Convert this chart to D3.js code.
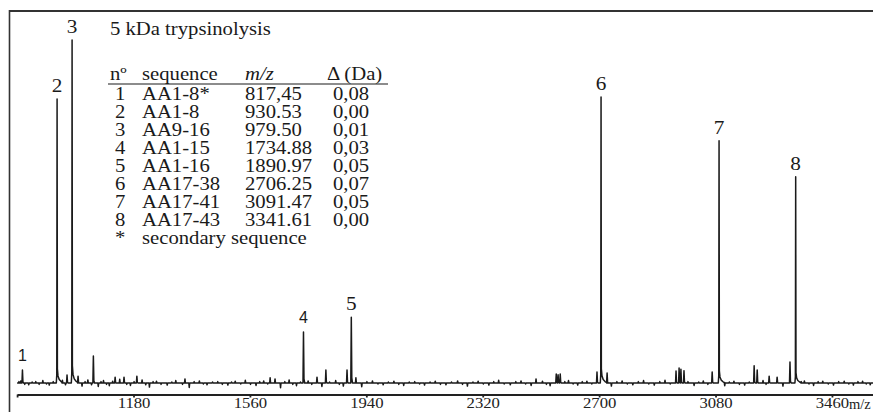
<!DOCTYPE html>
<html>
<head>
<meta charset="utf-8">
<script src="https://cdn.jsdelivr.net/npm/d3@7"></script>
<style>
  html, body { margin: 0; padding: 0; background: #fff; }
  svg { display: block; }
</style>
</head>
<body>
<svg id="chart" width="873" height="412"></svg>
<script>
// Labelled peptide peaks (m/z, relative intensity)
const peakLabels = ["1", "2", "3", "4", "5", "6", "7", "8"];
const peakMz = [817.45, 930.53, 979.50, 1734.88, 1890.97, 2706.25, 3091.47, 3341.61];
const peakIntensity = [3.8, 82.8, 100, 14.9, 19.2, 83.4, 70.6, 60.1];
const peakLabelFont = ["sans", "serif", "serif", "sans", "serif", "serif", "serif", "serif"];

// Smaller unassigned peaks
const minorMz = [963, 999, 1049, 1120, 1149, 1191, 1348, 1626, 1642, 1779, 1808, 1877, 1906, 2494,
  2560, 2566, 2573, 2693, 2726, 2951, 2961, 2967, 2977, 3069, 3206, 3216, 3255, 3281, 3323];
const minorIntensity = [2.3, 2.0, 7.9, 1.7, 1.7, 2.0, 1.2, 1.5, 1.2, 1.7, 3.8, 3.8, 1.5, 1.2,
  2.6, 2.4, 2.6, 3.2, 2.9, 3.5, 4.4, 4.0, 3.6, 3.2, 5.0, 3.8, 2.0, 1.7, 6.1];

// Baseline noise spikes
const noiseMz = [806, 812, 825, 838, 849, 861, 872, 884, 896, 905, 918, 948, 958, 1012, 1022, 1031, 1043,
  1065, 1074, 1082, 1092, 1101, 1112, 1135, 1158, 1170, 1182, 1208, 1220, 1232, 1244,
  1255, 1270, 1290, 1305, 1318, 1340, 1362, 1378, 1395, 1408, 1420, 1438, 1455, 1470, 1488, 1500,
  1512, 1530, 1545, 1562, 1580, 1592, 1605, 1618, 1660, 1674, 1688, 1700, 1712, 1725,
  1750, 1762, 1795, 1820, 1840, 1852, 1865, 1925, 1942, 1960, 1978, 1995, 2012, 2030, 2046,
  2062, 2080, 2098, 2114, 2130, 2148, 2165, 2182, 2200, 2218, 2238, 2254, 2270, 2288,
  2305, 2322, 2340, 2356, 2372, 2390, 2410, 2428, 2445, 2460, 2478, 2515, 2528, 2540, 2588, 2600,
  2615, 2630, 2645, 2660, 2676, 2740, 2758, 2775, 2792, 2810, 2828, 2845, 2862,
  2880, 2898, 2915, 2932, 2990, 3010, 3025, 3040, 3055, 3110, 3125, 3140, 3158, 3175, 3190, 3235, 3245,
  3300, 3360, 3370, 3385, 3400, 3415, 3430, 3448, 3465, 3482, 3500, 3515, 3530, 3545,
  3560, 3572, 3585];
const noiseIntensity = [0.4, 0.6, -0.4, -0.5, 0.3, 0.4, -0.4, 0.7, -0.3, -0.6, 0.4, 0.8, -0.5, -0.9, 0.4, 0.9, -0.5,
  -1.0, 0.4, 0.7, -0.4, -0.8, 0.5, 1.1, -0.4, -0.7, 0.4, 0.9, -0.5, -1.2, 0.4,
  0.5, -0.4, -0.6, 0.3, 0.7, -0.4, -1.3, 0.4, 0.6, -0.3, -0.5, 0.3, 0.4, -0.4, -0.6, 0.3,
  0.5, -0.3, 0.8, -0.4, -0.7, 0.4, 0.6, -0.3, -1.4, 0.4, 0.9, -0.4, -0.8, 0.3,
  0.6, -0.4, -1.0, 0.3, 0.7, -0.4, -0.9, -1.1, 0.4, 0.6, -0.3, -0.5, 0.3, 0.5, -0.4,
  -0.7, 0.3, 0.4, -0.3, -0.6, 0.3, 0.5, -0.4, -0.5, 0.3, 0.6, -0.4, -0.9, 0.3,
  0.5, -0.3, -0.6, 0.4, 0.8, -0.3, -0.5, 0.4, 0.6, -0.3, -0.7, 0.5, -0.4, -0.8, 0.4, 0.7,
  -0.3, -0.6, 0.4, 0.5, -0.3, -0.9, 0.4, 0.6, -0.3, -0.5, 0.4, 0.7, -0.3,
  -0.6, 0.4, 0.8, -0.3, 0.4, -0.7, 0.3, 0.6, -0.4, -0.8, 0.3, 0.5, -0.4, -0.6, 0.3, 0.7, -0.4,
  -0.9, 0.4, 0.6, -0.3, -0.7, 0.4, 0.5, -0.3, -0.6, 0.4, 0.5, -0.3, -0.6, 0.4,
  0.5, -0.3, -0.5];

// Axis ticks
const tickValues = [800, 1180, 1560, 1940, 2320, 2700, 3080, 3460];
const tickLabels = ["", "1180", "1560", "1940", "2320", "2700", "3080", "3460"];
const axisUnit = "m/z";

// Inset table
const chartTitle = "5 kDa trypsinolysis";
const tableHeader = ["nº", "sequence", "m/z", "Δ (Da)"];
const tableNo = ["1", "2", "3", "4", "5", "6", "7", "8", "*"];
const tableSeq = ["AA1-8*", "AA1-8", "AA9-16", "AA1-15", "AA1-16", "AA17-38", "AA17-41", "AA17-43", "secondary sequence"];
const tableMz = ["817,45", "930.53", "979.50", "1734.88", "1890.97", "2706.25", "3091.47", "3341.61", ""];
const tableDelta = ["0,08", "0,00", "0,01", "0,03", "0,05", "0,07", "0,05", "0,00", ""];

const svg = d3.select("#chart");
const ink = "#1a1a1a";
const SERIF = "'Liberation Serif', 'Times New Roman', serif";
const SANS = "'Liberation Sans', Arial, sans-serif";
const STRETCH = 1.15;

const x = d3.scaleLinear().domain([800, 3594]).range([17.1, 873]);
const y = d3.scaleLinear().domain([0, 100]).range([383, 40]);

// Frame (top and left edges)
svg.append("line").attr("x1", 9).attr("x2", 873).attr("y1", 11).attr("y2", 11)
  .attr("stroke", "#333").attr("stroke-width", 2);
svg.append("line").attr("x1", 9.5).attr("x2", 9.5).attr("y1", 10).attr("y2", 412)
  .attr("stroke", "#333").attr("stroke-width", 1.6);

// Build the spectrum trace from the peak lists
const events = [];
peakMz.forEach((m, i) => events.push({ mz: m, v: peakIntensity[i], big: true }));
minorMz.forEach((m, i) => events.push({ mz: m, v: minorIntensity[i], big: false }));
noiseMz.forEach((m, i) => events.push({ mz: m, v: noiseIntensity[i], big: false }));
events.sort((a, b) => a.mz - b.mz);

const pts = [[800, 0]];
events.forEach(e => {
  if (e.big && e.v > 30) {
    pts.push([e.mz - 2.5, 0], [e.mz - 1.0, e.v * 0.03], [e.mz, e.v], [e.mz + 1.0, e.v * 0.05],
      [e.mz + 3, e.v * 0.025], [e.mz + 7, e.v * 0.012], [e.mz + 13, e.v * 0.005], [e.mz + 20, 0]);
  } else if (e.v > 1.5) {
    pts.push([e.mz - 1.6, 0], [e.mz, e.v], [e.mz + 1.6, e.v * 0.08], [e.mz + 4, 0]);
  } else {
    pts.push([e.mz - 1.5, 0], [e.mz, e.v], [e.mz + 1.5, 0]);
  }
});
pts.push([3594, 0]);

const line = d3.line().x(d => x(d[0])).y(d => y(d[1]));
svg.append("path").attr("d", line(pts)).attr("fill", "none")
  .attr("stroke", ink).attr("stroke-width", 1.5).attr("stroke-linejoin", "round");

// Peak numbers
peakLabels.forEach((lab, i) => {
  const sans = peakLabelFont[i] === "sans";
  svg.append("text")
    .attr("transform", `translate(${x(peakMz[i])},${y(peakIntensity[i]) - (sans ? 9 : 7)}) scale(${sans ? 1 : STRETCH},1)`)
    .attr("text-anchor", "middle")
    .attr("font-family", sans ? SANS : SERIF)
    .attr("font-size", sans ? 16 : 18.5)
    .attr("fill", ink)
    .text(lab);
});

// Axis
const axis = d3.axisBottom(x).tickValues(tickValues)
  .tickFormat((d, i) => tickLabels[i]).tickSize(3).tickSizeOuter(0);
const gx = svg.append("g").attr("transform", "translate(0,394.5)").call(axis);
gx.select(".domain").attr("stroke", "#222").attr("stroke-width", 2);
gx.selectAll(".tick line").attr("stroke", "#222").attr("stroke-width", 1.8);
gx.selectAll(".tick text")
  .attr("dy", null).attr("y", 14).attr("x", 0)
  .attr("font-family", SERIF).attr("font-size", 14.5).attr("fill", "#222")
  .attr("transform", `scale(${STRETCH},1)`);
svg.append("text")
  .attr("transform", `translate(${x(3460) + 17},408.5)`)
  .attr("font-family", SERIF).attr("font-size", 14.5).attr("fill", "#222")
  .text(axisUnit);

// Title and table
function serifText(px, py, str, italic) {
  return svg.append("text")
    .attr("transform", `translate(${px},${py}) scale(${STRETCH},1)`)
    .attr("font-family", SERIF).attr("font-size", 18)
    .attr("font-style", italic ? "italic" : "normal")
    .attr("fill", ink).text(str);
}
serifText(110, 35, chartTitle);

const colX = [110, 142, 245, 327];
tableHeader.forEach((h, i) => serifText(colX[i], 80, h, i === 2));
svg.append("line").attr("x1", 108).attr("x2", 388).attr("y1", 84).attr("y2", 84)
  .attr("stroke", ink).attr("stroke-width", 1.2);

const rowY = d3.scaleLinear().domain([0, 1]).range([99.5, 99.5 + 18.1]);
tableNo.forEach((n, i) => {
  serifText(115, rowY(i), n);
  serifText(142, rowY(i), tableSeq[i]);
  if (tableMz[i]) serifText(245, rowY(i), tableMz[i]);
  if (tableDelta[i]) serifText(333, rowY(i), tableDelta[i]);
});
</script>
</body>
</html>
